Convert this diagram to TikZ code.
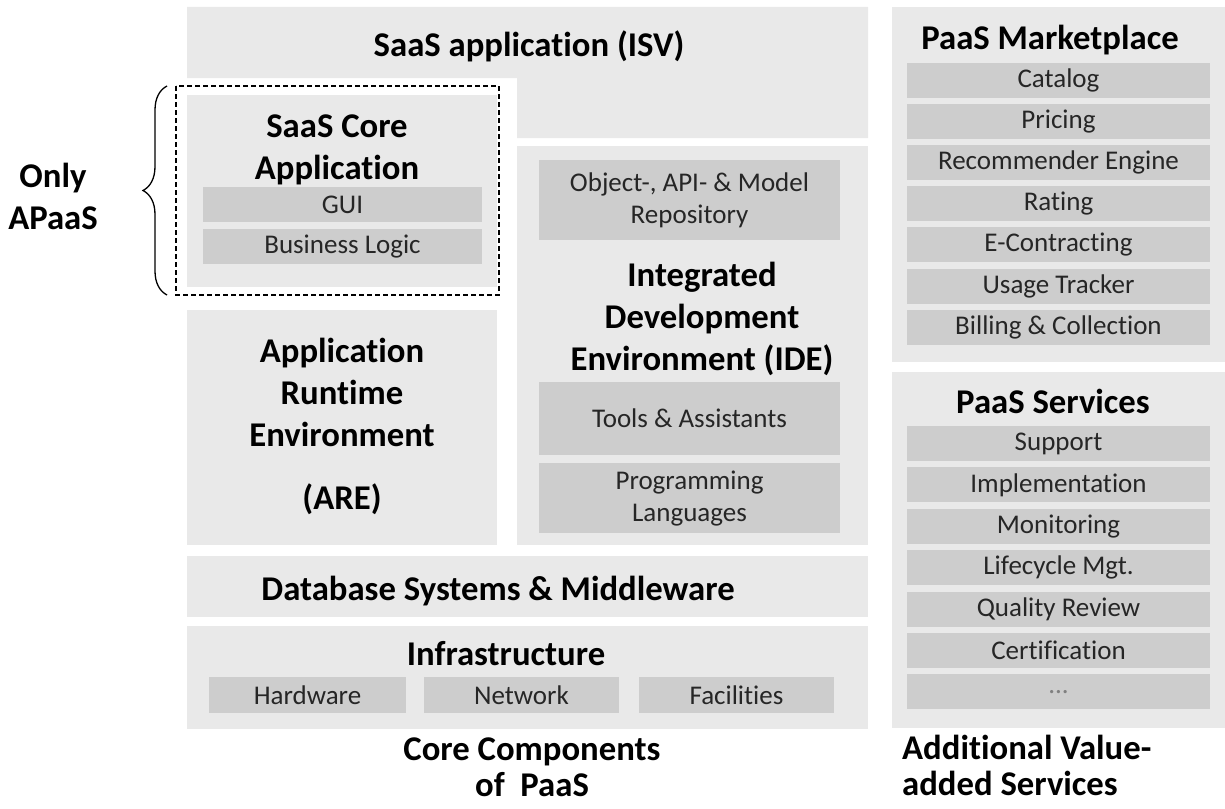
\documentclass[tikz,border=0pt]{standalone}
\usepackage{fontspec}
\setmainfont{Carlito}[Ligatures={NoCommon,NoContextual}, Contextuals=NoAlternate]
\usetikzlibrary{positioning, decorations.pathreplacing}
\definecolor{layergray}{RGB}{233,233,233}
\definecolor{itemgray}{RGB}{205,205,205}

\begin{document}
\begin{tikzpicture}[%
    x=1pt, y=-1pt,
    node distance=5.7pt,
    layer/.style={fill=layergray, inner sep=0pt, anchor=north west},
    item/.style={fill=itemgray, inner sep=0pt, text=black!85, align=center,
      font=\fontsize{27}{32}\selectfont},
    title/.style={inner sep=0pt, align=center,
      font=\fontsize{34.7}{42}\selectfont\bfseries},
    caption/.style={title, font=\fontsize{34.7}{36}\selectfont\bfseries}
  ]
  \useasboundingbox (0,0) rectangle (1225,808);

  % core components of PaaS
  \fill[layergray] (187,7) -- (868,7) -- (868,138) -- (517,138) -- (517,78) -- (187,78) -- cycle;
  \node[title] (saasapp) at (529,46) {SaaS application (ISV)};

  \node[layer, minimum width=310pt, minimum height=192pt] (core) at (187,95) {};
  \node[title] (coretitle) at (337,150) {SaaS Core\\Application};
  \node[item, minimum width=279pt, minimum height=35pt] (gui) at (342.5,204.5) {GUI};
  \node[item, minimum width=279pt, minimum height=35pt, below=7pt of gui] (logic) {Business Logic};
  \draw[dashed, line width=1.6pt, dash pattern=on 5pt off 3pt] (176,86) rectangle (499,295);

  \draw[decorate, decoration={brace, amplitude=24pt}, line width=1.3pt] (167,295) -- (167,86);
  \node[title] (apaas) at (53,196) {Only\\APaaS};

  \node[layer, minimum width=310pt, minimum height=235pt] (are) at (187,310) {};
  \node[title] (aretitle) at (342,426) {Application\\Runtime\\Environment\\[21pt](ARE)};

  \node[layer, minimum width=351pt, minimum height=399pt] (ide) at (517,146) {};
  \node[item, minimum width=301pt, minimum height=80pt] (repo) at (689.5,200) {Object-, API- \& Model\\Repository};
  \node[title] (idetitle) at (702,319) {Integrated\\Development\\Environment (IDE)};
  \node[item, minimum width=301pt, minimum height=73pt] (tools) at (689.5,418.5) {Tools \& Assistants};
  \node[item, minimum width=301pt, minimum height=70pt, below=8pt of tools] (lang) {Programming\\Languages};

  \node[layer, minimum width=681pt, minimum height=61pt] (db) at (187,556) {};
  \node[title] (dbtitle) at (498,591) {Database Systems \& Middleware};

  \node[layer, minimum width=681pt, minimum height=103pt] (infra) at (187,626) {};
  \node[title] (infratitle) at (506,654) {Infrastructure};
  \node[item, minimum width=197pt, minimum height=36pt] (hw) at (307.5,695) {Hardware};
  \node[item, minimum width=195pt, minimum height=36pt] (net) at (521.5,695) {Network};
  \node[item, minimum width=195pt, minimum height=36pt] (fac) at (736.5,695) {Facilities};

  \node[caption] (corecap) at (532,767) {Core Components\\of~~PaaS};

  % additional value-added services
  \node[layer, minimum width=333pt, minimum height=355pt] (market) at (892,7) {};
  \node[title] (markettitle) at (1050,40) {PaaS Marketplace};
  \node[item, minimum width=303pt, minimum height=35pt] (catalog) at (1058.5,80.5) {Catalog};
  \node[item, minimum width=303pt, minimum height=35pt, below=of catalog] (pricing) {Pricing};
  \node[item, minimum width=303pt, minimum height=35pt, below=of pricing] (recommender) {Recommender Engine};
  \node[item, minimum width=303pt, minimum height=35pt, below=of recommender] (rating) {Rating};
  \node[item, minimum width=303pt, minimum height=35pt, below=of rating] (contracting) {E-Contracting};
  \node[item, minimum width=303pt, minimum height=35pt, below=of contracting] (usage) {Usage Tracker};
  \node[item, minimum width=303pt, minimum height=35pt, below=of usage] (billing) {Billing \& Collection};

  \node[layer, minimum width=333pt, minimum height=356pt] (services) at (892,372) {};
  \node[title] (servicestitle) at (1053,401) {PaaS Services};
  \node[item, minimum width=303pt, minimum height=35pt] (support) at (1058.5,443.5) {Support};
  \node[item, minimum width=303pt, minimum height=35pt, below=6pt of support] (implementation) {Implementation};
  \node[item, minimum width=303pt, minimum height=35pt, below=6pt of implementation] (monitoring) {Monitoring};
  \node[item, minimum width=303pt, minimum height=35pt, below=6pt of monitoring] (lifecycle) {Lifecycle Mgt.};
  \node[item, minimum width=303pt, minimum height=35pt, below=6pt of lifecycle] (quality) {Quality Review};
  \node[item, minimum width=303pt, minimum height=35pt, below=6pt of quality] (certification) {Certification};
  \node[item, minimum width=303pt, minimum height=35pt, below=6pt of certification, text=black!50] (more) {...};

  \node[caption, align=left, anchor=west] (addcap) at (902,765) {Additional Value-\\added Services};
\end{tikzpicture}
\end{document}
